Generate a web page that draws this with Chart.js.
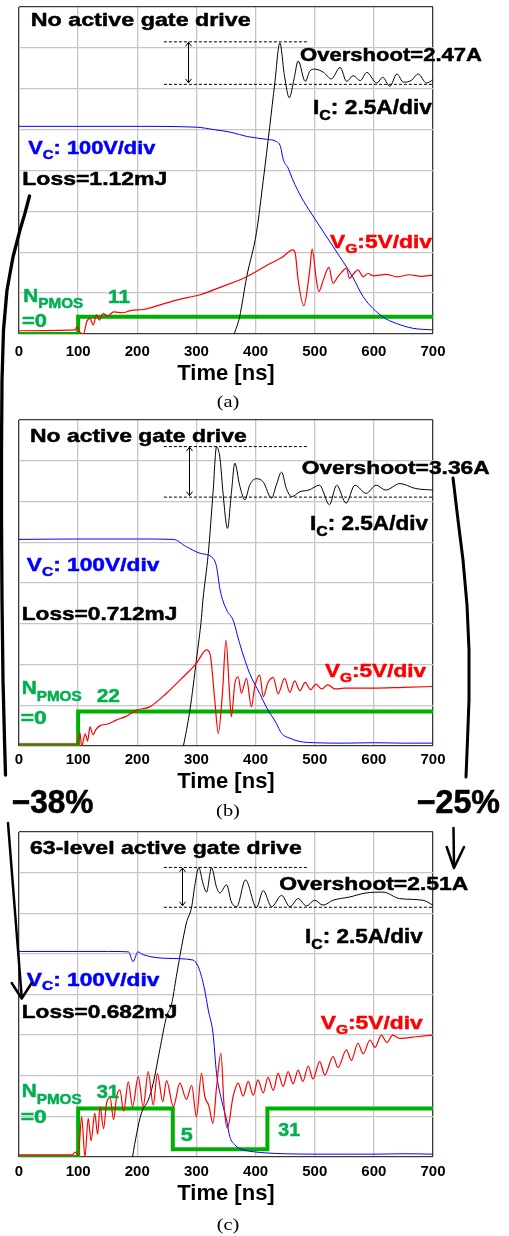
<!DOCTYPE html>
<html>
<head>
<meta charset="utf-8">
<script src="https://cdn.jsdelivr.net/npm/chart.js@4/dist/chart.umd.min.js"></script>
<style>
  body { margin: 0; background: #fff; }
  #wrap { position: relative; width: 509px; height: 1236px; }
  #wrap canvas { position: absolute; left: 0; }
</style>
</head>
<body>
<div id="wrap">
  <canvas id="ca" width="509" height="412" style="top:0px"></canvas>
  <canvas id="cb" width="509" height="410" style="top:412px"></canvas>
  <canvas id="cc" width="509" height="414" style="top:822px"></canvas>
  <canvas id="over" width="509" height="1236" style="top:0px;pointer-events:none"></canvas>
</div>
<script>
const FONT = '"Liberation Sans", Arial, Helvetica, sans-serif';
Chart.defaults.font.family = FONT;

const timeTicks = [0, 100, 200, 300, 400, 500, 600, 700];

// (a) no active gate drive  -- [time ns, value]
const vcA = [[0,508],[100,508],[200,508],[300,506],[330,500],[360,493],[386,483],[420,476],[435,471],[442,459],[447,426],[455,406],[463,377],[478,333],[492,300],[531,214],[564,140],[582,91],[615,42],[638,26],[666,14],[700,10]];
const icA = [[356,-1],[364,0],[373,1.05],[385,3.5],[401.5,6.2],[413,9.4],[424,12.7],[432.5,15.35],[441,17.8],[449,15.75],[457,14.45],[465,15.6],[472,16.7],[484,15.45],[492,16.1],[500,16.2],[515,16.0],[528,15.6],[543,16.3],[554,15.45],[565,15.8],[577,15.5],[588,16.0],[605,15.35],[615,15.7],[627,15.15],[639,15.9],[650,15.4],[663,15.5],[675,15.9],[689,15.35],[700,15.55]];
const vgA = [[0,0.4],[95,0.5],[98,0.9],[103,0.2],[109,0],[114.5,1.5],[120,1.9],[125.6,1.1],[131,2.35],[136,1.7],[142,2.5],[150,2.2],[160,2.7],[175,2.6],[190,2.9],[210,3.0],[240,3.6],[270,4.2],[306,4.8],[340,5.7],[385,7.0],[418,8.35],[445,9.4],[463,10.3],[467,9.9],[472,6.6],[481.5,3.45],[491.6,7.85],[495.6,10.4],[503,6.5],[507,5.2],[514,6.5],[524,8.15],[531,6.2],[539,7.0],[546,7.6],[553.6,8.05],[559,6.8],[566,7.4],[573,7.85],[582,7.0],[590,7.4],[600,7.1],[620,7.3],[640,7.0],[660,7.25],[680,7.05],[700,7.2]];
const nA = [[0,0],[100,11],[700,11]];

// (b) no active gate drive
const vcB = [[0,507],[100,508],[200,508],[261,507],[283,489],[306,473],[328,461],[334,440],[340,383],[351,334],[362,309],[373,252],[390,178],[407,129],[418,96],[435,56],[444,31],[458,19],[475,11],[500,8],[550,7],[600,8],[650,7],[700,7]];
const icB = [[272,-1],[278,0],[289,2.2],[300,5.3],[308.6,7.9],[311,8.95],[320,11.8],[328,15.5],[334,18.35],[340,17.6],[345,15.5],[352.5,13.35],[359,15.5],[365,17.35],[373,16.0],[382,15.1],[390,16.0],[401,16.4],[413,16.2],[427,15.2],[435,16.0],[444,16.8],[452,15.8],[461,15.3],[475,15.6],[490,15.7],[508,16.0],[525,14.8],[537,16.0],[553,14.9],[568,16.0],[587,15.5],[604,16.0],[620,15.7],[644,16.1],[670,15.8],[700,15.7]];
const vgB = [[0,0.25],[99,0.25],[103,1.6],[106,0],[112,1.5],[116,0.6],[120,2.35],[125,1.4],[130,2.0],[137,2.5],[150,2.7],[165,3.2],[180,3.6],[199,4.4],[221,4.8],[249,6.45],[278,8.5],[300,10.15],[317,11.8],[323,11.3],[331,5.65],[337,1.55],[344,6.5],[350,13.0],[355.5,7.0],[359,3.6],[365,7.7],[370.6,8.5],[376,6.5],[384.6,8.3],[393,4.8],[398.7,7.3],[407,8.7],[413,6.05],[421,7.8],[430,8.4],[438,6.4],[449,8.3],[458,6.6],[466,8.0],[475,6.8],[484,7.8],[493,6.9],[502,7.6],[512,7.0],[522,7.5],[535,7.0],[550,7.1],[600,7.1],[650,7.2],[700,7.3]];
const nB = [[0,0],[100,22],[700,22]];

// (c) 63-level active gate drive
const vcC = [[0,506],[100,506],[150,506],[185,505],[193,481],[201,505],[210,498],[250,489],[294,485],[303,469],[308.6,444],[314,411],[320,362],[328,305],[334,206],[342.5,140],[351,91],[356.5,50],[365,30],[373,21],[396,13],[418,10],[450,8],[500,7],[550,7],[600,7],[650,8],[700,7]];
const icC = [[188,-1],[192,0],[199,1.45],[207,2.7],[218.5,3.5],[227,4.55],[238,6.6],[249.5,8.65],[258,9.4],[266,11.1],[275,12.95],[283,14.4],[292,15.4],[297,16.65],[304,17.8],[311,16.85],[317,16.3],[325.5,17.8],[334,16.6],[339.6,16.25],[351,16.75],[359,15.7],[368,15.4],[383,17.05],[401.5,15.35],[413,16.4],[427,15.4],[444,16.1],[458,15.4],[472,15.9],[486,15.45],[500,15.8],[514,15.5],[531,15.8],[559,16.0],[587,16.25],[615.5,16.3],[643.7,15.9],[683,15.8],[700,15.5]];
const vgC = [[0,0.25],[90,0.25],[95,0.6],[100,0.2],[106,4.95],[111.5,0],[117,4.75],[122,2.0],[128,5.4],[133,2.8],[137,6.2],[143,3.5],[148,6.6],[154,7.3],[160,4.6],[165,7.4],[170.6,8.25],[177,5.6],[184.7,9.25],[192,6.2],[201.6,9.9],[210,6.2],[218.5,10.5],[227,6.4],[234,10.3],[243,6.8],[249.5,9.4],[261,6.2],[272,9.1],[283,7.1],[292,8.8],[300,4.95],[308.6,10.3],[314,7.5],[321,6.3],[328,4.15],[334,8.6],[341.4,12.75],[347,6.0],[352.5,3.55],[362,7.45],[370.6,9.1],[379,7.5],[387.5,9.3],[396,7.6],[404,9.5],[413,7.9],[421,9.8],[430,8.2],[438,10.3],[446.6,8.7],[455,10.5],[463.5,9.0],[472,10.7],[480,9.3],[489,11.2],[497,9.6],[508.5,11.75],[517,10.1],[531,12.35],[539.5,11.0],[553.6,13.2],[562,11.9],[573,14.0],[582,12.7],[593.5,14.4],[602,13.5],[612.7,15.0],[622,14.1],[632,15.0],[643.7,14.6],[672,14.8],[700,15.0]];
const nC = [[0,0],[100,31],[260,5],[420,31],[700,31]];

// overshoot markers [peak A, settled A] and annotation text
const overshootLevels = [[17.9, 15.3], [18.4, 15.3], [17.85, 15.4]];
const overshootText = ['Overshoot=2.47A', 'Overshoot=3.36A', 'Overshoot=2.51A'];
const panelTitles = ['No active gate drive', 'No active gate drive', '63-level active gate drive'];
const lossText = ['Loss=1.12mJ', 'Loss=0.712mJ', 'Loss=0.682mJ'];
const panelLetters = ['(a)', '(b)', '(c)'];

const BLUE = '#0000ff', RED = '#ff0000', GREEN_LINE = '#00b000', GREEN_TXT = '#00b050';

function pts(a) { return a.map(p => ({ x: p[0], y: p[1] })); }

// draw a run of text pieces, stretched horizontally to fit width w
function richText(ctx, x, y, w, parts, color, family, weight, stroke) {
  family = family || FONT;
  weight = weight === undefined ? 'bold ' : weight;
  ctx.save();
  let total = 0;
  parts.forEach(p => { ctx.font = weight + p[1] + 'px ' + family; total += ctx.measureText(p[0]).width; });
  ctx.translate(x, y);
  ctx.scale(w / total, 1);
  ctx.fillStyle = color;
  ctx.strokeStyle = color;
  ctx.lineWidth = stroke || 0;
  ctx.lineJoin = 'round';
  ctx.textAlign = 'left';
  ctx.textBaseline = 'alphabetic';
  let cx = 0;
  parts.forEach(p => {
    ctx.font = weight + p[1] + 'px ' + family;
    ctx.fillText(p[0], cx, p[2] || 0);
    if (stroke) ctx.strokeText(p[0], cx, p[2] || 0);
    cx += ctx.measureText(p[0]).width;
  });
  ctx.restore();
}

const panelDeco = {
  id: 'panelDeco',
  afterDraw(chart, args, o) {
    const { ctx, scales: { x, ic } } = chart;
    const T = o.top;
    const L = o.labels;
    const S = 0.5;
    ctx.save();

    // overshoot dashed lines + double arrow
    const yTop = ic.getPixelForValue(o.ov[0]);
    const yBase = ic.getPixelForValue(o.ov[1]);
    ctx.strokeStyle = '#000';
    ctx.lineWidth = 1;
    ctx.setLineDash([3, 2]);
    ctx.beginPath();
    ctx.moveTo(x.getPixelForValue(245), yTop + 0.5);
    ctx.lineTo(x.getPixelForValue(490), yTop + 0.5);
    ctx.moveTo(x.getPixelForValue(245), yBase + 0.5);
    ctx.lineTo(x.getPixelForValue(700), yBase + 0.5);
    ctx.stroke();
    ctx.setLineDash([]);
    const ax = Math.round(x.getPixelForValue(o.arrowT)) + 0.5;
    ctx.beginPath();
    ctx.moveTo(ax, yTop + 1); ctx.lineTo(ax, yBase - 1);
    ctx.moveTo(ax - 3, yTop + 5); ctx.lineTo(ax, yTop + 1); ctx.lineTo(ax + 3, yTop + 5);
    ctx.moveTo(ax - 3, yBase - 5); ctx.lineTo(ax, yBase - 1); ctx.lineTo(ax + 3, yBase - 5);
    ctx.stroke();

    richText(ctx, L.title[0], L.title[1] - T, L.title[2], [[o.title, 19]], '#000', null, undefined, S);
    richText(ctx, L.ov[0], L.ov[1] - T, L.ov[2], [[o.ovText, 19]], '#000', null, undefined, S);
    richText(ctx, L.ic[0], L.ic[1] - T, L.ic[2], [['I', 20], ['C', 14, 6], [': 2.5A/div', 20]], '#000', null, undefined, S);
    richText(ctx, L.vc[0], L.vc[1] - T, L.vc[2], [['V', 19], ['C', 13, 4.5], [': 100V/div', 19]], BLUE, null, undefined, S);
    richText(ctx, L.loss[0], L.loss[1] - T, L.loss[2], [[o.loss, 19]], '#000', null, undefined, S);
    richText(ctx, L.vg[0], L.vg[1] - T, L.vg[2], [['V', 19], ['G', 13, 4.5], [':5V/div', 19]], RED, null, undefined, S);
    richText(ctx, L.n[0], L.n[1] - T, L.n[2], [['N', 19], ['PMOS', 14, 6.6]], GREEN_TXT, null, undefined, S);
    richText(ctx, L.eq[0], L.eq[1] - T, L.eq[2], [['=0', 19]], GREEN_TXT, null, undefined, S);
    L.nv.forEach(v => richText(ctx, v[0], v[1] - T, v[2], [[v[3], 19]], GREEN_TXT, null, undefined, S));

    // panel letter
    ctx.font = '17px "Liberation Serif", "Times New Roman", serif';
    const lw = ctx.measureText(o.letter).width;
    richText(ctx, 228 - lw * 0.6, o.letterY - T, lw * 1.2, [[o.letter, 17]], '#000', '"Liberation Serif", "Times New Roman", serif', '');
    ctx.restore();
  }
};

function makePanel(id, i, vc, ic, vg, n, lay) {
  const edgeX = c => (c.tick && (c.tick.value === 0 || c.tick.value === 700)) ? '#3a3a3a' : '#c6c6c6';
  const edgeY = c => (c.tick && (c.tick.value === 0 || c.tick.value === 8)) ? '#3a3a3a' : '#c6c6c6';
  return new Chart(document.getElementById(id), {
    type: 'line',
    data: {
      datasets: [
        { label: 'VG', data: pts(vg), yAxisID: 'vg', borderColor: RED, borderWidth: 1.2, cubicInterpolationMode: 'monotone' },
        { label: 'VC', data: pts(vc), yAxisID: 'vc', borderColor: BLUE, borderWidth: 1, cubicInterpolationMode: 'monotone' },
        { label: 'IC', data: pts(ic), yAxisID: 'ic', borderColor: '#000', borderWidth: 1, cubicInterpolationMode: 'monotone' },
        { label: 'NPMOS', data: pts(n), yAxisID: 'n', borderColor: GREEN_LINE, borderWidth: 4, stepped: 'before' }
      ]
    },
    options: {
      responsive: false,
      animation: false,
      devicePixelRatio: 1,
      elements: { point: { radius: 0 }, line: { fill: false } },
      layout: { padding: { left: 19, right: 76, top: lay.padTop, bottom: lay.padBottom } },
      scales: {
        x: {
          type: 'linear', min: 0, max: 700,
          afterBuildTicks: s => { s.ticks = timeTicks.map(v => ({ value: v })); },
          afterFit: s => { s.height = lay.axisH; },
          ticks: { color: '#000', font: { size: 15, weight: 'bold' }, padding: lay.tickPad, maxRotation: 0, autoSkip: false },
          grid: { color: edgeX, lineWidth: 1.3, drawTicks: false },
          border: { display: false },
          title: { display: true, text: 'Time [ns]', color: '#000', font: { size: 22, weight: 'bold' }, padding: 0 }
        },
        y: {
          min: 0, max: 8,
          ticks: { display: false, stepSize: 1 },
          afterFit: s => { s.width = 0; },
          grid: { color: edgeY, lineWidth: 1.3, drawTicks: false },
          border: { display: false }
        },
        vc: { axis: 'y', display: false, min: 0, max: 800 },
        ic: { axis: 'y', display: false, min: 0, max: 20 },
        vg: { axis: 'y', display: false, min: 0, max: 40 },
        n: { axis: 'y', display: false, min: 0, max: 208 }
      },
      plugins: {
        legend: { display: false },
        tooltip: { enabled: false },
        panelDeco: {
          top: lay.top, ov: overshootLevels[i], arrowT: lay.arrowT,
          title: panelTitles[i], ovText: overshootText[i], loss: lossText[i],
          letter: panelLetters[i], letterY: lay.letterY, labels: lay.labels
        }
      }
    },
    plugins: [panelDeco]
  });
}

makePanel('ca', 0, vcA, icA, vgA, nA, {
  top: 0, padTop: 7, padBottom: 25, axisH: 53, tickPad: 9, arrowT: 286, letterY: 407,
  labels: {
    title: [30.7, 25.7, 220], ov: [300, 60.7, 182], ic: [313, 114, 119], vc: [28.3, 154.3, 127],
    loss: [22.3, 185, 145], vg: [330, 248.3, 102], n: [23.3, 301.7, 60], eq: [22, 326.7, 25],
    nv: [[108, 303, 22, '11']]
  }
});
makePanel('cb', 1, vcB, icB, vgB, nB, {
  top: 412, padTop: 8, padBottom: 27, axisH: 49, tickPad: 5, arrowT: 287, letterY: 816,
  labels: {
    title: [30, 441.7, 216.7], ov: [301.7, 474, 188], ic: [310, 530, 118], vc: [26.7, 571, 132.7],
    loss: [21.7, 620, 155.6], vg: [325, 677.3, 101], n: [21.7, 694.3, 60], eq: [20.7, 724, 26],
    nv: [[96.7, 701.7, 23.3, '22']]
  }
});
makePanel('cc', 2, vcC, icC, vgC, nC, {
  top: 822, padTop: 10, padBottom: 29, axisH: 50, tickPad: 5.5, arrowT: 276, letterY: 1230,
  labels: {
    title: [30, 854, 271.7], ov: [279.3, 890, 189], ic: [305, 942.7, 117.7], vc: [26.7, 985.7, 132.7],
    loss: [21.7, 1018.3, 155.6], vg: [320.7, 1029.3, 102], n: [21.7, 1097.3, 60], eq: [20.7, 1122.7, 26],
    nv: [[96.7, 1098.3, 22.3, '31'], [180.7, 1140.7, 12, '5'], [278.3, 1136, 21.7, '31']]
  }
});

// connectors between panels and the percentage callouts
(function () {
  const ctx = document.getElementById('over').getContext('2d');
  ctx.strokeStyle = '#000';
  ctx.lineCap = 'round';
  ctx.lineJoin = 'round';

  function poly(p, w) {
    ctx.lineWidth = w;
    ctx.beginPath();
    ctx.moveTo(p[0][0], p[0][1]);
    for (let k = 1; k < p.length; k++) ctx.lineTo(p[k][0], p[k][1]);
    ctx.stroke();
  }

  poly([[29.5,196],[25,213],[20,230],[13,257],[7,290],[3.5,330],[2,380],[1.5,450],[1.5,520],[2,600],[3,680],[4.5,740],[5.5,775]], 3.3);
  poly([[453,478],[458,520],[463,560],[467,605],[469,650],[469,700],[467.5,740],[466,777]], 3);

  poly([[8,823],[21.7,997]], 2.5);
  poly([[11.7,983],[21.7,998.5],[31.7,983]], 2.5);
  poly([[453.5,828],[454,866]], 2.5);
  poly([[446.7,847],[454,868],[464,847]], 2.5);

  richText(ctx, 11.7, 813, 81.7, [['\u221238%', 33]], '#000', null, undefined, 0.6);
  richText(ctx, 416.7, 813, 83.3, [['\u221225%', 33]], '#000', null, undefined, 0.6);
})();
</script>
</body>
</html>
